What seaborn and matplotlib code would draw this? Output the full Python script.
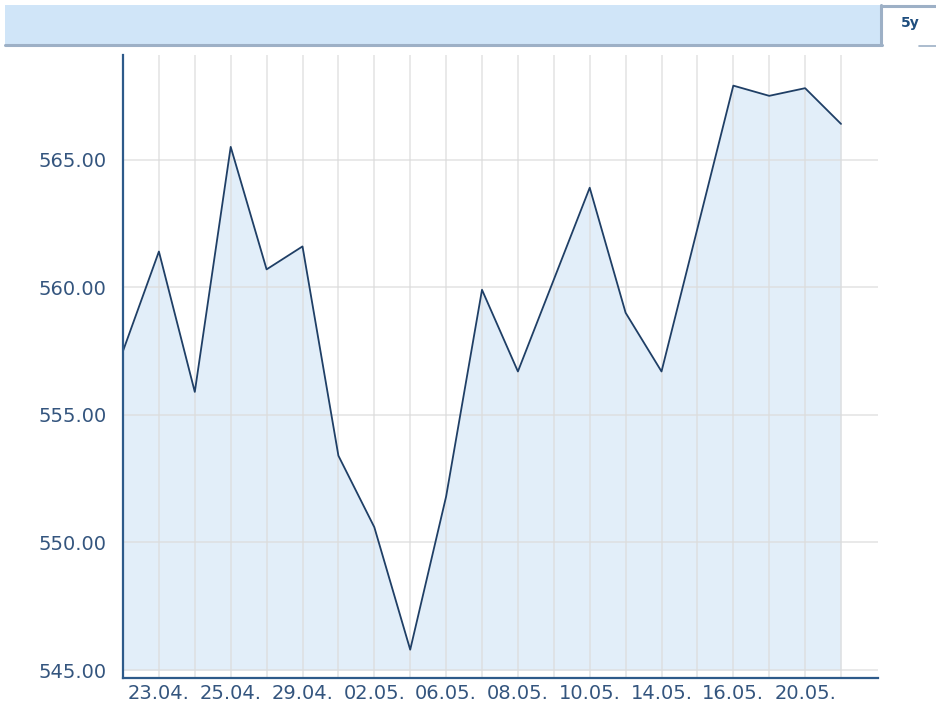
import matplotlib
matplotlib.use("Agg")
import matplotlib.pyplot as plt
from matplotlib.patches import Rectangle
from matplotlib.lines import Line2D
import seaborn as sns
import pandas as pd

# daily closing values
dates = ["22.04.", "23.04.", "24.04.", "25.04.", "26.04.", "29.04.", "30.04.",
         "02.05.", "03.05.", "06.05.", "07.05.", "08.05.", "09.05.", "10.05.",
         "13.05.", "14.05.", "15.05.", "16.05.", "17.05.", "20.05.", "21.05."]
prices = [557.5, 561.4, 555.9, 565.5, 560.7, 561.6, 553.4,
          550.6, 545.8, 551.8, 559.9, 556.7, 560.3, 563.9,
          559.0, 556.7, 562.3, 567.9, 567.5, 567.8, 566.4]
y_ticks = [545, 550, 555, 560, 565]

df = pd.DataFrame({"day": range(len(dates)), "price": prices})

sns.set_style("white")
W, H = 936, 709
fig = plt.figure(figsize=(W / 100, H / 100), dpi=100)

def fx(px):
    return px / W

def fy(py):
    return 1 - py / H

# banner on top
fig.add_artist(Rectangle((fx(5), fy(45)), fx(876), 40 / H, transform=fig.transFigure,
                         facecolor="#d0e5f8", edgecolor="none"))
fig.add_artist(Line2D([fx(5), fx(882)], [fy(45), fy(45)], transform=fig.transFigure,
                      color="#9db0c6", lw=2.2))
fig.add_artist(Line2D([fx(881), fx(881)], [fy(45), fy(5)], transform=fig.transFigure,
                      color="#9db0c6", lw=2.2))
fig.add_artist(Line2D([fx(881), fx(936)], [fy(5.5), fy(5.5)], transform=fig.transFigure,
                      color="#9db0c6", lw=2.2))
fig.add_artist(Line2D([fx(919), fx(936)], [fy(46), fy(46)], transform=fig.transFigure,
                      color="#9db0c6", lw=1.2))
fig.text(fx(910), fy(23), "5y", ha="center", va="center", fontsize=10,
         fontweight="bold", color="#1f4e7e")

ax = fig.add_axes([fx(123), fy(678), fx(878) - fx(123), (678 - 55) / H])

ax.fill_between(df["day"], 545, df["price"], color="#e2eef9", lw=0, zorder=1)
sns.lineplot(data=df, x="day", y="price", ax=ax, color="#1f3f66", lw=1.3, zorder=3)

ax.set_xlim(0, 21.03)
ax.set_ylim(544.69, 569.1)
ax.set_xticks(range(len(dates)))
ax.set_xticklabels([d if i % 2 == 1 else "" for i, d in enumerate(dates)])
ax.set_yticks(y_ticks)
ax.set_yticklabels([f"{v:.2f}" for v in y_ticks])
ax.set_axisbelow(False)
ax.grid(True, color="#dcdcdc", lw=1.2, alpha=0.75, zorder=2)
ax.tick_params(axis="both", length=0, labelsize=14, labelcolor="#34557e")
ax.tick_params(axis="x", pad=4)
ax.tick_params(axis="y", pad=12)
ax.set_xlabel("")
ax.set_ylabel("")

for s in ["top", "right"]:
    ax.spines[s].set_visible(False)
for s in ["left", "bottom"]:
    ax.spines[s].set_color("#2d5a8a")
    ax.spines[s].set_linewidth(1.6)
    ax.spines[s].set_zorder(4)

fig.savefig("out.png", dpi=100)
